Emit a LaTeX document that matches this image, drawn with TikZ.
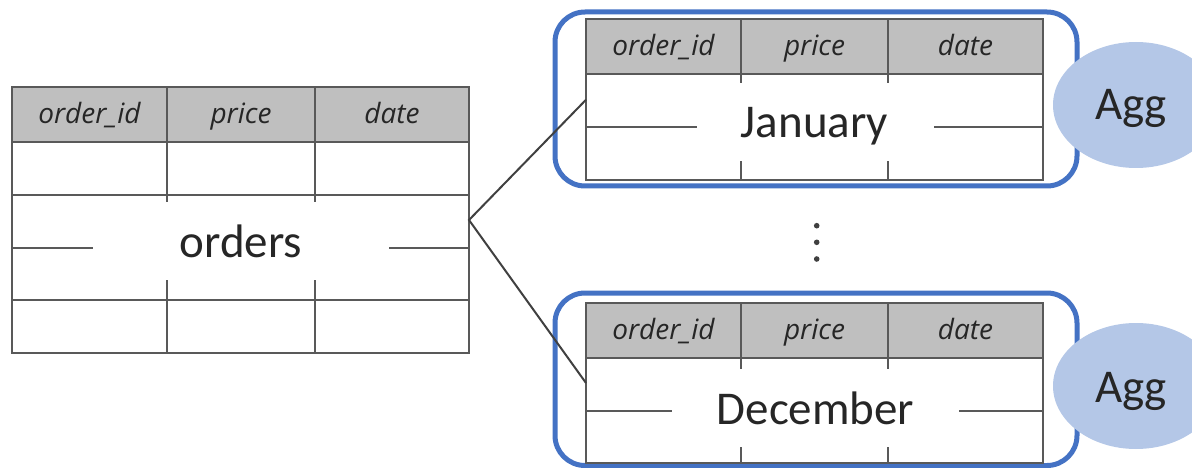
\documentclass[tikz,border=0pt]{standalone}
\usepackage{fontspec}
\setmainfont{Carlito}
\newfontfamily\handfont{Open Sans}
\usetikzlibrary{shapes.geometric}

\definecolor{gridgray}{HTML}{595959}
\definecolor{headgray}{HTML}{BFBFBF}
\definecolor{groupblue}{HTML}{4472C4}
\definecolor{aggblue}{HTML}{B4C7E7}
\definecolor{ink}{HTML}{262626}
\definecolor{linkgray}{HTML}{404040}

\tikzset{
  gridline/.style={draw=gridgray, line width=2pt},
  frame/.style={rectangle, draw=gridgray, line width=2pt, inner sep=0pt, outer sep=0pt},
  headfill/.style={fill=headgray},
  colhead/.style={anchor=base, inner sep=0pt, text=ink,
    font=\handfont\itshape\fontsize{28}{33}\selectfont},
  labelbox/.style={rectangle, fill=white, inner sep=0pt, outer sep=0pt, minimum height=78pt},
  labeltext/.style={anchor=base, inner sep=0pt, text=ink,
    font=\fontsize{47}{56}\selectfont},
  group/.style={rectangle, draw=groupblue, line width=5pt, rounded corners=30pt,
    inner sep=0pt, outer sep=0pt},
  agg/.style={ellipse, fill=aggblue, inner sep=0pt, minimum width=166pt, minimum height=126pt},
  link/.style={draw=linkgray, line width=2pt},
  dot/.style={circle, fill=linkgray, inner sep=0pt, minimum size=5.6pt},
}

\begin{document}
\begin{tikzpicture}[x=1pt, y=-1pt]
  \useasboundingbox (0,0) rectangle (1192,468);
  \clip (0,0) rectangle (1192,468);

  % monthly partition groups
  \node[group, minimum width=522pt, minimum height=174pt] (jangrp) at (816,99) {};
  \node[group, minimum width=522pt, minimum height=172.5pt] (decgrp) at (816,379.25) {};

  % full orders table
  \fill[headfill] (12,87) rectangle (469,142);
  \draw[gridline] (12,142) -- (469,142) (12,195) -- (469,195)
                  (12,248) -- (469,248) (12,300) -- (469,300)
                  (167,87) -- (167,353) (315,87) -- (315,353);
  \node[frame, minimum width=457pt, minimum height=266pt] (orders) at (240.5,220) {};
  \node[colhead] (oid) at (89.5,123.5) {order\_id};
  \node[colhead] (oprice) at (241,123.5) {price};
  \node[colhead] (odate) at (392,123.5) {date};
  \node[labelbox, minimum width=296pt] (ordersbox) at (241,241) {};
  \node[labeltext] (orderslbl) at (241,257) {orders};

  % January partition
  \fill[headfill] (586,19.5) rectangle (1043,74);
  \draw[gridline] (586,74) -- (1043,74) (586,127.5) -- (1043,127.5)
                  (741,19.5) -- (741,180) (888,19.5) -- (888,180);
  \node[frame, minimum width=457pt, minimum height=160.5pt] (jan) at (814.5,99.75) {};
  \node[colhead] (jid) at (663.5,56) {order\_id};
  \node[colhead] (jprice) at (814.5,56) {price};
  \node[colhead] (jdate) at (965.5,56) {date};
  \node[labelbox, minimum width=237pt] (janbox) at (815.5,122) {};
  \node[labeltext] (janlbl) at (814.5,138) {January};

  % December partition
  \fill[headfill] (586,303) rectangle (1043,358);
  \draw[gridline] (586,358) -- (1043,358) (586,411) -- (1043,411)
                  (741,303) -- (741,463) (888,303) -- (888,463);
  \node[frame, minimum width=457pt, minimum height=160pt] (dec) at (814.5,383) {};
  \node[colhead] (did) at (663.5,339.5) {order\_id};
  \node[colhead] (dprice) at (814.5,339.5) {price};
  \node[colhead] (ddate) at (965.5,339.5) {date};
  \node[labelbox, minimum width=287pt] (decbox) at (815.5,408) {};
  \node[labeltext] (declbl) at (815.5,424) {December};

  % aggregation per partition
  \node[agg] (aggjan) at (1136,105) {};
  \node[labeltext] (aggjanlbl) at (1131,120) {Agg};
  \node[agg] (aggdec) at (1136,386) {};
  \node[labeltext] (aggdeclbl) at (1131,402) {Agg};

  % vertical ellipsis between partitions
  \node[dot] (dot1) at (816.7,225.7) {};
  \node[dot] (dot2) at (816.7,242.3) {};
  \node[dot] (dot3) at (816.7,259) {};

  % split connectors
  \draw[link] (jan.west) -- (orders.east) -- (dec.west);
\end{tikzpicture}
\end{document}
